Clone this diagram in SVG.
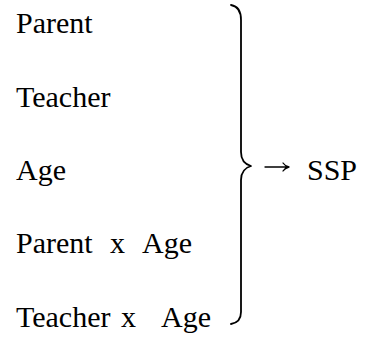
<svg xmlns="http://www.w3.org/2000/svg" width="367" height="337" viewBox="0 0 367 337">
  <style>
    .brace { fill: none; stroke: #000; stroke-width: 1.8; stroke-linecap: round; stroke-linejoin: round; }
    .arrow { fill: none; stroke: #000; stroke-width: 1.3; stroke-linecap: round; stroke-linejoin: round; }
  </style>
  <rect width="367" height="337" fill="#fff"/>

  <g font-family="'Liberation Serif', 'DejaVu Serif', serif" font-size="30" fill="#000">
    <!-- predictor terms -->
    <g id="parent"><text x="16" y="33">Parent</text></g>
    <g id="teacher"><text x="16" y="107">Teacher</text></g>
    <g id="age"><text x="16" y="180">Age</text></g>
    <g id="parent-x-age"><text y="253"><tspan x="16">Parent</tspan><tspan x="110">x</tspan><tspan x="142">Age</tspan></text></g>
    <g id="teacher-x-age"><text y="327"><tspan x="16">Teacher</tspan><tspan x="121">x</tspan><tspan x="161">Age</tspan></text></g>

    <!-- outcome -->
    <g id="ssp"><text x="307" y="180">SSP</text></g>
  </g>

  <!-- curly brace grouping the terms, and the arrow to the outcome -->
  <g id="connectors">
    <path class="brace" d="M231,5 C237,6 241,10 241,20 L241,152 C241,160 244,164 251,166 C244,168 241,172 241,180 L241,312 C241,320 237,323 231,324"/>
    <path class="arrow" d="M265,167 H288 M283,163 Q285,166 289,167 Q285,168 283,171"/>
  </g>
</svg>
